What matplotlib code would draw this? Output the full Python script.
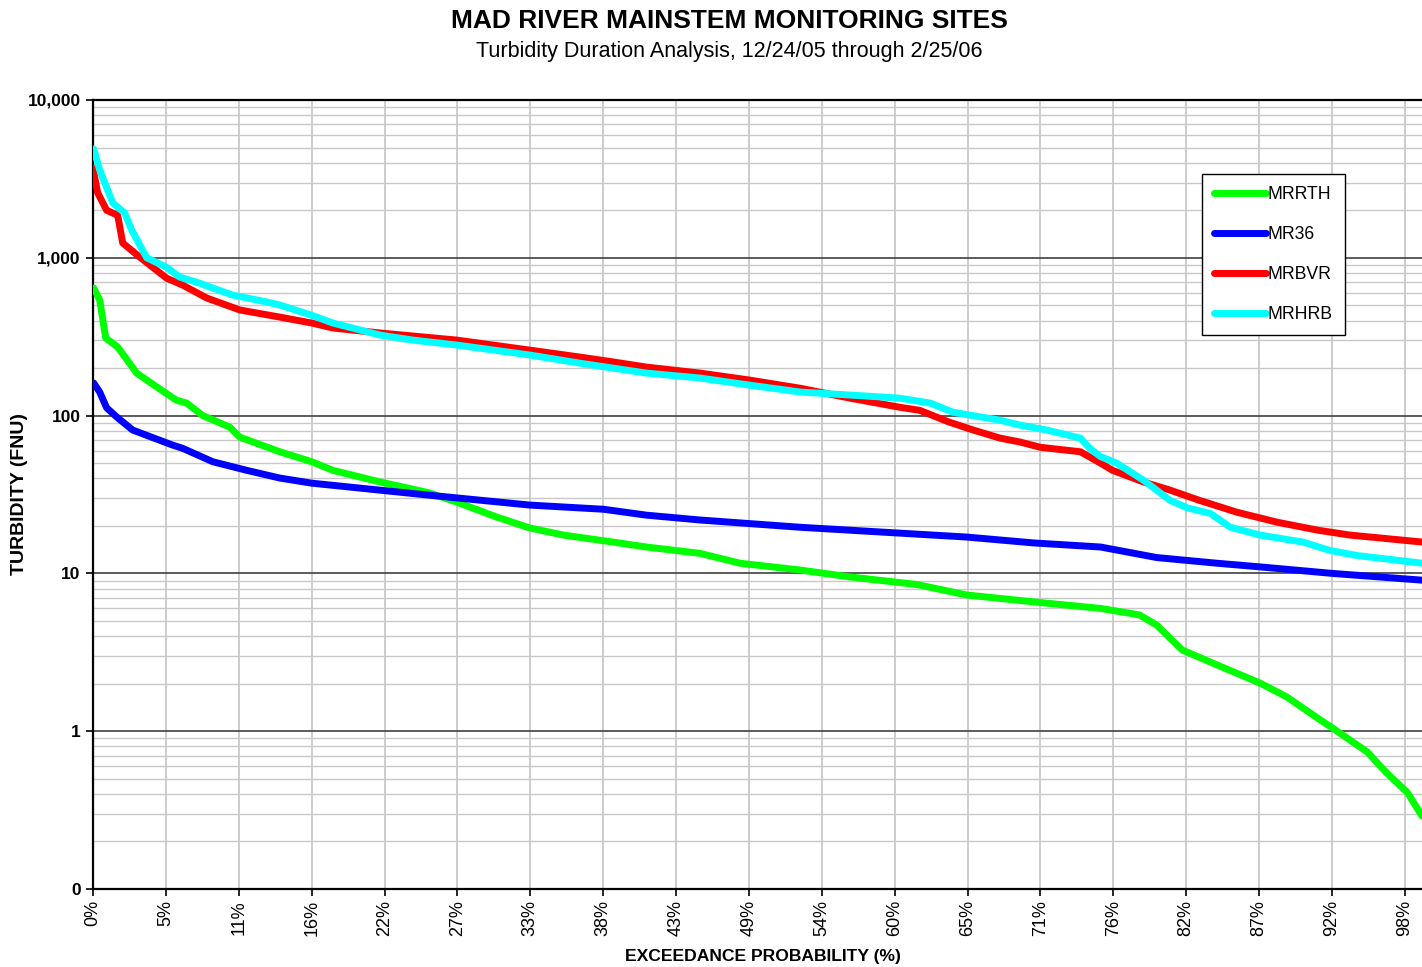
import matplotlib
matplotlib.use("Agg")
import matplotlib.pyplot as plt
from matplotlib.ticker import FixedLocator, FixedFormatter, LogLocator, NullFormatter

plt.rcParams['font.family'] = ['Liberation Sans', 'DejaVu Sans']

# ---- data (exceedance probability %, turbidity FNU) ----
mrrth_x = [0.05, 0.5, 0.95, 1.84, 3.26, 4.75, 6.24, 6.99, 8.19, 10.2, 10.96, 13.94, 16.33, 17.9,
           21.41, 25.1, 27.15, 30.1, 32.6, 35.1, 38.8, 41.3, 45.3, 48.3, 52.8, 56.5, 61.5, 65.2,
           70.2, 75.2, 78.1, 79.4, 81.3, 83.9, 87.1, 89.1, 91.6, 92.5, 95.1, 96.6, 98.1, 99.2]
mrrth_y = [643, 540, 310, 272, 186, 152, 125, 120, 100, 84.6, 73, 59, 51, 45,
           38, 32.4, 28.3, 22.8, 19.4, 17.5, 15.8, 14.7, 13.4, 11.6, 10.5, 9.5, 8.5, 7.3,
           6.6, 6.0, 5.46, 4.7, 3.27, 2.63, 2.02, 1.65, 1.18, 1.05, 0.74, 0.54, 0.41, 0.29]

mr36_x = [0.05, 0.5, 1.02, 1.77, 2.96, 4.0, 5.95, 6.7, 8.94, 11.47, 13.94, 16.33, 21.41, 25.1,
          28.9, 32.6, 38.1, 41.3, 45.3, 52.8, 60.2, 65.2, 70.2, 75.2, 79.4, 83.9, 87.1, 92.5, 99.2]
mr36_y = [161, 141, 112, 98, 81, 75, 65, 62, 51, 45, 40.2, 37.3, 33.7, 31.3,
          29.1, 27.1, 25.5, 23.4, 21.8, 19.6, 18.0, 17.0, 15.6, 14.7, 12.6, 11.6, 11.0, 10.0, 9.06]

mrbvr_x = [0.0, 0.35, 1.02, 1.84, 2.22, 3.49, 5.5, 6.7, 8.49, 10.96, 13.94, 16.33, 17.9, 21.41,
           27.15, 32.6, 36.33, 38.8, 41.3, 45.3, 49.0, 52.8, 56.5, 60.2, 61.7, 63.9, 65.7, 67.7,
           69.2, 70.7, 73.7, 75.2, 76.1, 78.4, 80.4, 82.6, 85.4, 88.4, 91.4, 93.8, 96.3, 99.2]
mrbvr_y = [3700, 2580, 2000, 1860, 1240, 1010, 742, 671, 556, 467, 421, 386, 359, 334,
           301, 260, 235, 219, 203, 186, 168, 149, 129, 113, 108, 91, 81, 72,
           68, 63, 59, 50, 45, 38, 33.7, 29, 24.4, 21.1, 18.8, 17.5, 16.7, 15.8]

mrhrb_x = [0.05, 0.5, 1.47, 2.37, 2.89, 4.01, 5.5, 6.47, 7.97, 8.94, 10.43, 12.97, 13.94, 16.33,
           17.9, 21.41, 23.87, 27.15, 32.6, 36.33, 38.8, 41.3, 45.3, 49.0, 52.8, 56.5, 60.2, 62.5,
           64.2, 67.7, 69.2, 71.2, 73.7, 74.4, 75.2, 76.4, 78.4, 80.4, 81.7, 83.4, 84.9, 87.1,
           90.3, 92.3, 94.3, 99.2]
mrhrb_y = [4900, 3600, 2230, 1920, 1500, 1000, 870, 755, 690, 643, 580, 525, 502, 432,
           386, 324, 301, 280, 242, 215, 200, 186, 173, 156, 141, 135, 129, 120,
           105, 93.5, 87, 81, 72, 62, 55, 50, 39, 29, 26, 24, 19.6, 17.5,
           15.8, 14, 13, 11.6]

series_names = ["MRRTH", "MR36", "MRBVR", "MRHRB"]
series_colors = ["#00FF00", "#0000FF", "#FF0000", "#00FFFF"]

x_tick_labels = ["0%", "5%", "11%", "16%", "22%", "27%", "33%", "38%", "43%", "49%",
                 "54%", "60%", "65%", "71%", "76%", "82%", "87%", "92%", "98%"]
x_tick_step = 5.44
y_tick_values = [0.1, 1, 10, 100, 1000, 10000]
y_tick_labels = ["0", "1", "10", "100", "1,000", "10,000"]

# ---- figure ----
W, H = 1422, 967
fig = plt.figure(figsize=(W / 100, H / 100), dpi=100)
ax = fig.add_axes([93 / W, 1 - 889 / H, 1 - 93 / W, (889 - 100) / H])

xs = [mrrth_x, mr36_x, mrbvr_x, mrhrb_x]
ys = [mrrth_y, mr36_y, mrbvr_y, mrhrb_y]
for x, y, n, c in zip(xs, ys, series_names, series_colors):
    ax.plot(x, y, color=c, lw=5, label=n, solid_joinstyle='round', solid_capstyle='round',
            zorder=3)

ax.set_yscale('log')
ax.set_ylim(0.1, 10000)
ax.set_xlim(0, 99.2)

ax.yaxis.set_major_locator(FixedLocator(y_tick_values))
ax.yaxis.set_major_formatter(FixedFormatter(y_tick_labels))
ax.yaxis.set_minor_locator(LogLocator(base=10, subs=range(2, 10), numticks=50))
ax.yaxis.set_minor_formatter(NullFormatter())

xt = [i * x_tick_step for i in range(len(x_tick_labels))]
ax.set_xticks(xt)
ax.set_xticklabels(x_tick_labels, rotation=90, fontsize=13)
for lab in ax.get_yticklabels():
    lab.set_fontweight('bold')
    lab.set_fontsize(12.5)

ax.tick_params(axis='y', which='major', direction='out', length=5, width=1.2, pad=4)
ax.tick_params(axis='y', which='minor', length=0)
ax.tick_params(axis='x', which='major', direction='out', length=5, width=1.2, pad=3)

ax.grid(True, which='minor', axis='y', color='#c8c8c8', lw=1.0, zorder=0)
ax.grid(True, which='major', axis='y', color='#404040', lw=1.2, zorder=1)
ax.grid(True, which='major', axis='x', color='#c4c4c4', lw=1.2, zorder=0)
ax.set_axisbelow(True)

for s in ['left', 'bottom', 'top']:
    ax.spines[s].set_color('black')
    ax.spines[s].set_linewidth(1.6)
ax.spines['right'].set_visible(False)

fig.text(20 / W, 1 - 494 / H, "TURBIDITY (FNU)", rotation=90, fontsize=14,
         fontweight='bold', ha='center', va='center')
fig.text(763 / W, 1 - 956 / H, "EXCEEDANCE PROBABILITY (%)", fontsize=12.6,
         fontweight='bold', ha='center', va='center')

fig.text(729 / W, 1 - 21 / H, "MAD RIVER MAINSTEM MONITORING SITES", fontsize=19,
         fontweight='bold', ha='center', va='center')
fig.text(729 / W, 1 - 52 / H, "Turbidity Duration Analysis, 12/24/05 through 2/25/06",
         fontsize=15.5, ha='center', va='center')

leg = ax.legend(loc='upper left', bbox_to_anchor=(1202 / W, 1 - 174 / H),
                bbox_transform=fig.transFigure, borderaxespad=0, fontsize=12.7,
                frameon=True, fancybox=False, shadow=False, handlelength=2.9,
                handletextpad=0.1, labelspacing=1.3, borderpad=0.7)
leg.get_frame().set_edgecolor('black')
leg.get_frame().set_linewidth(1.0)
leg.get_frame().set_alpha(1)

fig.savefig("out.png", dpi=100)
